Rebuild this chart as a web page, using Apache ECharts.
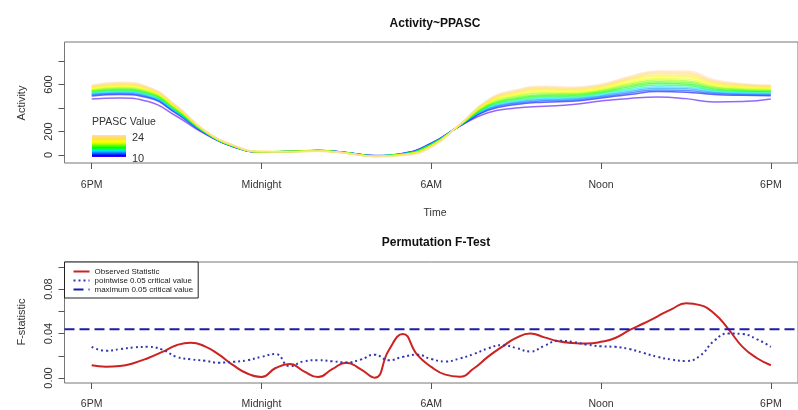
<!DOCTYPE html>
<html><head><meta charset="utf-8">
<script src="https://cdn.jsdelivr.net/npm/echarts@6/dist/echarts.min.js"></script>
<style>html,body{margin:0;padding:0;background:#fff}#c{width:798px;height:410px}</style>
</head><body><div id="c"></div>
<script>
// ---- data ----
const hoursTop = [18,19,20,21,22,23,24,25,26,27,28,29,30,31,32,33,34,35,36,37,38,39,40,41,42];
const ppascValues = [10,11,12,13,14,15,16,17,18,19,20,21,22,23,24];
const ppasc10 = [477,485,455,330,180,70,26,30,38,20,-6,14,100,245,360,400,415,430,460,482,494,480,452,455,477];
const ppasc11 = [503,515,487,352,186,72,25,31,39,21,-5,13,98,247,380,430,450,458,485,515,540,535,515,508,505];
const ppasc12 = [512,524,495,358,188,73,26,31,38,21,-6,12,96,248,388,440,461,468,495,528,554,549,525,516,513];
const ppasc13 = [520,533,503,364,190,74,26,30,38,20,-7,11,94,249,396,450,472,478,505,541,568,563,534,524,521];
const ppasc14 = [527,541,511,370,192,75,27,30,37,20,-7,10,92,250,404,460,483,488,515,554,582,577,544,532,528];
const ppasc15 = [535,549,519,376,194,76,27,31,37,19,-8,9,90,251,412,470,494,498,525,567,596,591,553,540,536];
const ppasc16 = [542,558,527,382,196,77,28,30,36,19,-8,7,87,252,419,480,505,508,535,580,610,605,563,548,543];
const ppasc17 = [549,566,535,388,198,78,28,29,36,18,-9,6,85,253,426,490,516,517,544,592,624,619,573,556,550];
const ppasc18 = [556,574,542,393,200,79,27,30,35,18,-10,5,82,254,433,500,527,526,553,604,638,633,582,564,557];
const ppasc19 = [562,582,549,398,202,80,28,29,35,17,-10,4,80,255,440,510,538,535,562,616,652,647,592,572,564];
const ppasc20 = [569,590,556,403,204,81,29,29,34,17,-11,2,77,256,447,520,549,544,571,628,666,661,602,580,571];
const ppasc21 = [576,598,563,408,205,82,29,28,34,16,-12,1,74,257,453,530,559,553,580,640,680,675,611,588,578];
const ppasc22 = [582,605,569,412,207,83,30,28,33,16,-12,0,71,258,459,540,568,561,588,650,694,689,621,595,584];
const ppasc23 = [589,613,575,416,208,84,30,27,33,15,-13,-2,68,259,465,548,577,569,596,660,706,702,630,601,590];
const ppasc24 = [596,620,580,420,210,85,30,27,32,14,-14,-4,64,260,470,555,585,577,603,668,716,716,640,606,596];
const activitySeries = [ppasc10,ppasc11,ppasc12,ppasc13,ppasc14,ppasc15,ppasc16,ppasc17,ppasc18,ppasc19,ppasc20,ppasc21,ppasc22,ppasc23,ppasc24];

const hoursHalf = [18,18.5,19,19.5,20,20.5,21,21.5,22,22.5,23,23.5,24,24.5,25,25.5,26,26.5,27,27.5,28,28.5,29,29.5,30,30.5,31,31.5,32,32.5,33,33.5,34,34.5,35,35.5,36,36.5,37,37.5,38,38.5,39,39.5,40,40.5,41,41.5,42];
const observedStat = [0.0114,0.0102,0.0108,0.0135,0.018,0.0235,0.0295,0.0318,0.0285,0.021,0.0115,0.004,0.001,0.009,0.0125,0.006,0.0008,0.008,0.0138,0.008,0.0003,0.025,0.0395,0.021,0.010,0.003,0.0012,0.0085,0.019,0.028,0.036,0.040,0.0365,0.033,0.0315,0.031,0.0325,0.036,0.043,0.049,0.0555,0.062,0.0672,0.0655,0.058,0.044,0.028,0.018,0.0115];
const pointwiseCrit = [0.028,0.0245,0.026,0.0275,0.028,0.0255,0.019,0.0168,0.0155,0.0138,0.0145,0.016,0.019,0.0215,0.0105,0.015,0.016,0.015,0.014,0.0165,0.021,0.016,0.019,0.021,0.017,0.0148,0.0175,0.0215,0.0265,0.0295,0.027,0.0238,0.029,0.0335,0.0325,0.030,0.0285,0.028,0.026,0.0225,0.019,0.0165,0.0153,0.020,0.0335,0.040,0.0395,0.035,0.028];
const maximumCrit = 0.0438;

const tickHours = [18,24,30,36,42];
const tickNames = ['6PM','Midnight','6AM','Noon','6PM'];
const activityTicks = [0,200,400,600,800];
const activityLabels = [0,200,600];
const fTicks = [0,0.02,0.04,0.06,0.08,0.10];
const fLabels = [0,0.04,0.08];

// ---- style ----
const topo = ['#4C00FF','#0000FF','#004DFF','#0099FF','#00E5FF','#00FF4D','#00FF00','#4DFF00','#99FF00','#E6FF00','#FFFF00','#FFEA2D','#FFDE59','#FFDB86','#FFE0B3'];
const FONT = 'Liberation Sans, Arial, sans-serif';
const xMin = 17.04, xMax = 42.96;

function xAxisDef(gi, margin) {
  return {
    gridIndex: gi, type: 'value', min: xMin, max: xMax,
    axisLine: {show: false, onZero: false}, splitLine: {show: false},
    axisTick: {show: true, inside: false, length: 6, customValues: tickHours, lineStyle: {color: '#555'}},
    axisLabel: {customValues: tickHours, formatter: v => tickNames[tickHours.indexOf(v)],
      fontSize: 10.5, color: '#333', margin: margin, fontFamily: FONT}
  };
}

const series = activitySeries.map((arr, i) => ({
  name: 'PPASC ' + ppascValues[i], type: 'line', xAxisIndex: 0, yAxisIndex: 0,
  data: hoursTop.map((h, j) => [h, arr[j]]), smooth: 0.5, symbol: 'none', silent: true,
  lineStyle: {width: 1.5, color: topo[i], opacity: 0.6}
}));
series.push({
  name: 'Observed Statistic', type: 'line', xAxisIndex: 1, yAxisIndex: 1,
  data: hoursHalf.map((h, j) => [h, observedStat[j]]), smooth: 0.5, symbol: 'none',
  itemStyle: {color: '#cc2222'}, lineStyle: {width: 2, color: '#cc2222'}
});
series.push({
  name: 'pointwise 0.05 critical value', type: 'line', xAxisIndex: 1, yAxisIndex: 1,
  data: hoursHalf.map((h, j) => [h, pointwiseCrit[j]]), smooth: 0.5, symbol: 'none',
  itemStyle: {color: '#3535b0'}, lineStyle: {width: 2, color: '#3535b0', type: [2, 3]}
});
series.push({
  name: 'maximum 0.05 critical value', type: 'line', xAxisIndex: 1, yAxisIndex: 1,
  data: [[xMin, maximumCrit], [xMax, maximumCrit]], symbol: 'none',
  itemStyle: {color: '#1c1ca8'}, lineStyle: {width: 2, color: '#1c1ca8', type: [10, 5]}
});

const option = {
  animation: false,
  backgroundColor: '#fff',
  textStyle: {fontFamily: FONT},
  title: [
    {text: 'Activity~PPASC', left: 435, top: 18, textAlign: 'center', padding: 0,
     textStyle: {fontSize: 12, fontWeight: 'bold', color: '#111', fontFamily: FONT}},
    {text: 'Permutation F-Test', left: 436, top: 237, textAlign: 'center', padding: 0,
     textStyle: {fontSize: 12, fontWeight: 'bold', color: '#111', fontFamily: FONT}}
  ],
  grid: [
    {left: 64.5, top: 42, width: 743, height: 121, show: true, borderColor: '#777', borderWidth: 1},
    {left: 64.5, top: 262, width: 743, height: 121, show: true, borderColor: '#777', borderWidth: 1}
  ],
  xAxis: [xAxisDef(0, 17), xAxisDef(1, 16)],
  yAxis: [
    {gridIndex: 0, type: 'value', min: -68, max: 962,
     axisLine: {show: false, onZero: false}, splitLine: {show: false},
     axisTick: {show: true, inside: false, length: 6, customValues: activityTicks, lineStyle: {color: '#555'}},
     axisLabel: {customValues: activityLabels, rotate: 90, margin: 10, fontSize: 11, color: '#333', fontFamily: FONT}},
    {gridIndex: 1, type: 'value', min: -0.0045, max: 0.1043,
     axisLine: {show: false, onZero: false}, splitLine: {show: false},
     axisTick: {show: true, inside: false, length: 6, customValues: fTicks, lineStyle: {color: '#555'}},
     axisLabel: {customValues: fLabels, rotate: 90, margin: 10, fontSize: 11, color: '#333', fontFamily: FONT,
       formatter: v => v.toFixed(2)}}
  ],
  legend: {
    data: ['Observed Statistic', 'pointwise 0.05 critical value', 'maximum 0.05 critical value'],
    orient: 'vertical', left: 64.5, top: 262, itemWidth: 16, itemHeight: 9, itemGap: 0,
    itemStyle: {opacity: 0, borderWidth: 0},
    padding: [5, 5, 4, 8], borderColor: '#222', borderWidth: 1, backgroundColor: '#fff',
    textStyle: {fontSize: 8, color: '#222', lineHeight: 9, fontFamily: FONT}
  },
  graphic: [
    {type: 'text', x: 435, y: 213, style: {text: 'Time', fontSize: 10.5, fill: '#333', align: 'center', verticalAlign: 'middle', fontFamily: FONT}},
    {type: 'text', x: 22, y: 103, rotation: Math.PI / 2, style: {text: 'Activity', fontSize: 11, fill: '#333', align: 'center', verticalAlign: 'middle', fontFamily: FONT}},
    {type: 'text', x: 22, y: 322, rotation: Math.PI / 2, style: {text: 'F-statistic', fontSize: 11, fill: '#333', align: 'center', verticalAlign: 'middle', fontFamily: FONT}},
    {type: 'text', x: 92, y: 122, style: {text: 'PPASC Value', fontSize: 10.5, fill: '#333', align: 'left', verticalAlign: 'middle', fontFamily: FONT}},
    {type: 'rect', shape: {x: 92, y: 135, width: 34, height: 22},
     style: {fill: new echarts.graphic.LinearGradient(0, 0, 0, 1,
       topo.slice().reverse().map((c, i, a) => ({offset: i / (a.length - 1), color: c})))}},
    {type: 'text', x: 132, y: 138, style: {text: '24', fontSize: 11, fill: '#333', align: 'left', verticalAlign: 'middle', fontFamily: FONT}},
    {type: 'text', x: 132, y: 159, style: {text: '10', fontSize: 11, fill: '#333', align: 'left', verticalAlign: 'middle', fontFamily: FONT}}
  ],
  series: series
};

const chart = echarts.init(document.getElementById('c'), null, {renderer: 'canvas'});
chart.setOption(option);
</script></body></html>
